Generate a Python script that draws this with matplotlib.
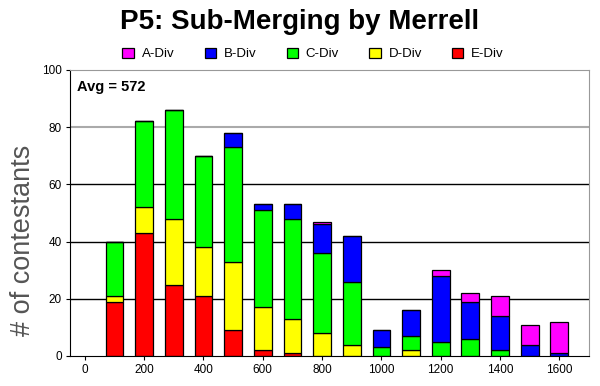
import numpy as np
import matplotlib
matplotlib.use("Agg")
import matplotlib.pyplot as plt

plt.rcParams.update({
    "font.family": ["Liberation Sans", "DejaVu Sans"],
    "font.size": 8,
})

# ── data ──────────────────────────────────────────────────────────────────────
scores = [100, 200, 300, 400, 500, 600, 700, 800,
          900, 1000, 1100, 1200, 1300, 1400, 1500, 1600]
e_div = [19, 43, 25, 21, 9, 2, 1, 0, 0, 0, 0, 0, 0, 0, 0, 0]
d_div = [2, 9, 23, 17, 24, 15, 12, 8, 4, 0, 2, 0, 0, 0, 0, 0]
c_div = [19, 30, 38, 32, 40, 34, 35, 28, 22, 3, 5, 5, 6, 2, 0, 0]
b_div = [0, 0, 0, 0, 5, 2, 5, 10, 16, 6, 9, 23, 13, 12, 4, 1]
a_div = [0, 0, 0, 0, 0, 0, 0, 1, 0, 0, 0, 2, 3, 7, 7, 11]
avg_label = "Avg = 572"

SERIES = [
    ("A-Div", a_div, "#ff00ff"),
    ("B-Div", b_div, "#0000ff"),
    ("C-Div", c_div, "#00ff00"),
    ("D-Div", d_div, "#ffff00"),
    ("E-Div", e_div, "#ff0000"),
]

# ── figure ────────────────────────────────────────────────────────────────────
fig = plt.figure(figsize=(6.0, 3.86), dpi=100)
ax = fig.add_axes([70 / 600, 30 / 386, 519 / 600, 286 / 386])

# gridlines (80 is drawn gray in the original)
for yv in [20, 40, 60]:
    ax.axhline(yv, color="black", lw=1.0, zorder=0)
ax.axhline(80, color="#aaaaaa", lw=1.5, zorder=0)

# stacked bars, bottom-up: E, D, C, B, A
bottom = np.zeros(len(scores))
handles = {}
for name, vals, color in reversed(SERIES):
    vals = np.array(vals, dtype=float)
    bars = ax.bar(scores, vals, width=60, bottom=bottom, color=color,
                  edgecolor="black", linewidth=0.9, zorder=2)
    handles[name] = bars
    bottom += vals

ax.set_xlim(-50, 1700)
ax.set_ylim(0, 100)
ax.set_xticks(range(0, 1601, 200))
ax.set_yticks(range(0, 101, 20))
ax.tick_params(length=3, width=0.8, labelsize=8.5, pad=3)
for side in ["top", "right"]:
    ax.spines[side].set_color("#999999")

fig.text(23 / 600, 1 - 240 / 386, "# of contestants", rotation=90,
         ha="center", va="center", fontsize=19.5, color="#555555")

ax.text(0.013, 0.965, avg_label, transform=ax.transAxes, fontsize=10.5,
        fontweight="bold", va="top", ha="left")

fig.text(0.5, 0.943, "P5: Sub-Merging by Merrell", ha="center", va="center",
         fontsize=20, fontweight="bold")

fig.legend([handles[n] for n, _, _ in SERIES], [n for n, _, _ in SERIES],
           loc="center", bbox_to_anchor=(0.522, 0.86), ncol=5, frameon=False,
           fontsize=9.5, handlelength=0.85, handleheight=0.85,
           handletextpad=0.6, columnspacing=2.3)

fig.savefig("out.png", dpi=100)
